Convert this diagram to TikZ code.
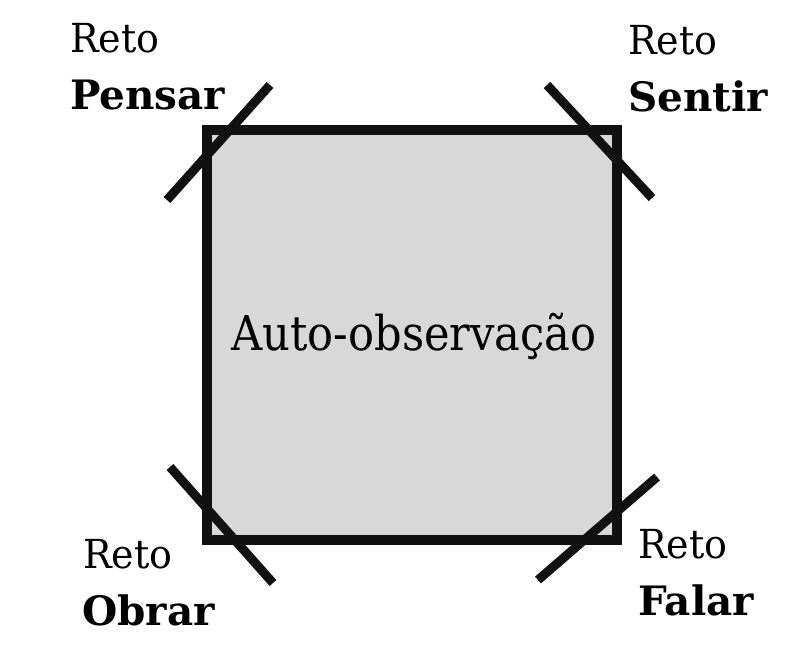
\documentclass[tikz,border=0pt]{standalone}
\usepackage{fontspec}
\setmainfont{DejaVu Serif}
\newfontfamily\titlefont[FakeStretch=0.9]{DejaVu Serif}
\newfontfamily\retofont[FakeStretch=0.95]{DejaVu Serif}
\definecolor{boxgray}{RGB}{216,216,216}
\definecolor{ink}{RGB}{17,17,17}
\tikzset{
  sq/.style={draw=ink, fill=boxgray, line width=10pt, minimum width=410pt, minimum height=410pt, inner sep=0pt},
  cut/.style={draw=ink, line width=9pt},
  reto/.style={anchor=base west, inner sep=0pt, font=\retofont\fontsize{40}{40}\selectfont},
  word/.style={anchor=base west, inner sep=0pt, font=\bfseries\fontsize{40.5}{40.5}\selectfont},
}
\begin{document}
\begin{tikzpicture}[x=1pt,y=-1pt]
\useasboundingbox (0,0) rectangle (806,660);
\node[sq] (box) at (412,335) {};
\node[anchor=base, inner sep=0pt, font=\titlefont\fontsize{48}{48}\selectfont] (title) at (414,350) {Auto-observação};
% corner cuts
\coordinate (tl1) at (167,200); \coordinate (tl2) at (270,85);
\coordinate (tr1) at (547,85);  \coordinate (tr2) at (652,198);
\coordinate (bl1) at (170,467); \coordinate (bl2) at (273,583);
\coordinate (br1) at (538,580); \coordinate (br2) at (657,477);
\draw[cut] (tl1) -- (tl2);
\draw[cut] (tr1) -- (tr2);
\draw[cut] (bl1) -- (bl2);
\draw[cut] (br1) -- (br2);
% labels
\node[reto] (r1) at (70,53) {Reto};
\node[word] (w1) at (70,110) {Pensar};
\node[reto] (r2) at (628,55) {Reto};
\node[word] (w2) at (628,112) {Sentir};
\node[reto] (r3) at (83,568) {Reto};
\node[word] (w3) at (82,625) {Obrar};
\node[reto] (r4) at (638,558) {Reto};
\node[word] (w4) at (638,615) {Falar};
\end{tikzpicture}
\end{document}
